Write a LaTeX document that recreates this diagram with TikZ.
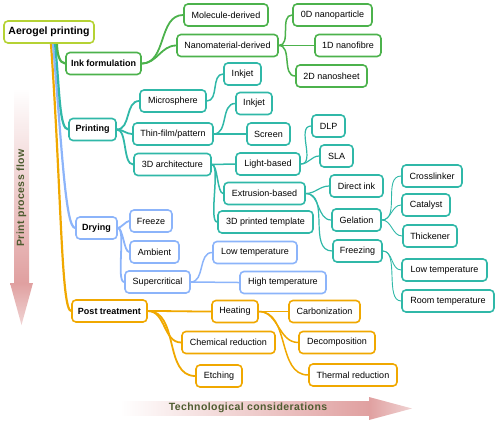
\documentclass[tikz,border=0pt]{standalone}
\usepackage{fontspec}
\setmainfont{Liberation Sans}
\newfontfamily\arrowfont[LetterSpace=4]{Liberation Sans}
\usetikzlibrary{backgrounds}
\definecolor{cgreen}{RGB}{76,178,76}
\definecolor{cteal}{RGB}{48,184,168}
\definecolor{cblue}{RGB}{140,180,250}
\definecolor{corange}{RGB}{240,168,0}
\definecolor{croot}{RGB}{181,210,52}
\definecolor{ctext}{RGB}{78,92,48}
\definecolor{cpink}{RGB}{224,160,160}
\definecolor{cpinkl}{RGB}{240,212,212}
\tikzset{
  box/.style={draw, rounded corners=4pt, fill=white, line width=1.6pt,
    minimum height=22pt, inner sep=0pt, text=black,
    font=\fontsize{9}{10}\selectfont},
  lvlone/.style={box, font=\fontsize{9}{10}\selectfont\bfseries},
  gbox/.style={box, draw=cgreen}, tbox/.style={box, draw=cteal},
  bbox/.style={box, draw=cblue}, obox/.style={box, draw=corange},
  br/.style={out=0, in=180},
  lA/.style={line width=2.2pt}, lB/.style={line width=1.8pt},
  lC/.style={line width=1.5pt}, lD/.style={line width=1.2pt},
  lE/.style={line width=0.9pt},
  arrowlabel/.style={text=ctext, font=\fontsize{10.5}{12}\arrowfont\bfseries}
}
\begin{document}
\begin{tikzpicture}[x=1pt, y=-1pt]
\useasboundingbox (0,0) rectangle (497,422);
% big arrows
\shade[top color=white, bottom color=cpink] (14,88) rectangle (29,283);
\shade[top color=cpink, bottom color=cpinkl] (10,283) -- (33,283) -- (21.5,325) -- cycle;
\node[arrowlabel, rotate=90] (pflow) at (21.5,198) {Print process flow};
\shade[left color=white, right color=cpink] (120,401) rectangle (369,415);
\shade[left color=cpink, right color=cpinkl] (369,397) -- (369,420) -- (412,408.5) -- cycle;
\node[arrowlabel] (tcons) at (248,408) {Technological considerations};
% root
\node[box, draw=croot, minimum width=90pt, font=\fontsize{10.5}{12}\selectfont\bfseries] (root) at (49,32) {Aerogel printing};
% level 1
\node[lvlone, draw=cgreen, minimum width=75pt] (ink) at (103.5,63.5) {Ink formulation};
\node[lvlone, draw=cteal, minimum width=47pt] (printing) at (92.5,129.5) {Printing};
\node[lvlone, draw=cblue, minimum width=41pt] (drying) at (96.5,228) {Drying};
\node[lvlone, draw=corange, minimum width=75pt] (post) at (109.5,311) {Post treatment};
% ink branch
\node[gbox, minimum width=84pt] (mol) at (226,15) {Molecule-derived};
\node[gbox, minimum width=101pt] (nano) at (227.5,45.5) {Nanomaterial-derived};
\node[gbox, minimum width=79pt] (zd) at (332.5,15) {0D nanoparticle};
\node[gbox, minimum width=66pt] (od) at (348,45.5) {1D nanofibre};
\node[gbox, minimum width=71pt] (td) at (331.5,76) {2D nanosheet};
% printing branch
\node[tbox, minimum width=66pt] (micro) at (173,101) {Microsphere};
\node[tbox, minimum width=37pt] (inkjeta) at (242.5,74) {Inkjet};
\node[tbox, minimum width=80pt] (thin) at (173,134) {Thin-film/pattern};
\node[tbox, minimum width=36pt] (inkjetb) at (254,103.5) {Inkjet};
\node[tbox, minimum width=43pt] (screen) at (268.5,134) {Screen};
\node[tbox, minimum width=77pt] (arch) at (172.5,164.5) {3D architecture};
\node[tbox, minimum width=64pt] (light) at (268,164) {Light-based};
\node[tbox, minimum width=33pt] (dlp) at (328.5,126) {DLP};
\node[tbox, minimum width=33pt] (sla) at (336.5,156) {SLA};
\node[tbox, minimum width=81pt] (extr) at (264.5,193.5) {Extrusion-based};
\node[tbox, minimum width=95pt] (templ) at (265.5,222) {3D printed template};
\node[tbox, minimum width=53pt] (direct) at (356.5,186) {Direct ink};
\node[tbox, minimum width=49pt] (gel) at (356.5,220) {Gelation};
\node[tbox, minimum width=49pt] (freezing) at (357.5,251) {Freezing};
\node[tbox, minimum width=60pt] (cross) at (432,176) {Crosslinker};
\node[tbox, minimum width=48pt] (cat) at (426,205) {Catalyst};
\node[tbox, minimum width=54pt] (thick) at (430,236) {Thickener};
\node[tbox, minimum width=85pt] (lowt) at (444.5,270) {Low temperature};
\node[tbox, minimum width=92pt] (roomt) at (448,301) {Room temperature};
% drying branch
\node[bbox, minimum width=42pt] (freeze) at (151,221) {Freeze};
\node[bbox, minimum width=49pt] (ambient) at (154.5,252) {Ambient};
\node[bbox, minimum width=65pt] (super) at (157.5,282) {Supercritical};
\node[bbox, minimum width=84pt] (lowb) at (255,252.5) {Low temperature};
\node[bbox, minimum width=86pt] (highb) at (283,282.5) {High temperature};
% post branch
\node[obox, minimum width=46pt] (heating) at (235,311.5) {Heating};
\node[obox, minimum width=71pt] (carb) at (324.5,311.5) {Carbonization};
\node[obox, minimum width=93pt] (chem) at (228.5,342.5) {Chemical reduction};
\node[obox, minimum width=76pt] (decomp) at (337,342.5) {Decomposition};
\node[obox, minimum width=46pt] (etch) at (219,376) {Etching};
\node[obox, minimum width=88pt] (thermal) at (353,375) {Thermal reduction};
% connectors
\begin{pgfonlayer}{background}
\coordinate (so) at ([xshift=2pt]root.south);
\coordinate (sb) at ([xshift=4pt]root.south);
\coordinate (st) at ([xshift=6pt]root.south);
\coordinate (sg) at ([xshift=8pt]root.south);
\draw[lA, corange] (so) to[out=-86, in=180, out distance=150pt, in distance=10pt] (post.west);
\draw[lA, cblue] (sb) to[out=-85, in=180, out distance=100pt, in distance=10pt] (drying.west);
\draw[lA, cteal] (st) to[out=-84, in=180, out distance=45pt, in distance=9pt] (printing.west);
\draw[lA, cgreen] (sg) to[out=-90, in=180, out distance=9pt, in distance=6pt] (ink.west);
% green
\draw[lB, cgreen] (ink.east) to[br] (mol.west);
\draw[lB, cgreen] (ink.east) to[br] (nano.west);
\draw[lC, cgreen] (nano.east) to[br] (zd.west);
\draw[lC, cgreen] (nano.east) to[br] (od.west);
\draw[lC, cgreen] (nano.east) to[br] (td.west);
% teal
\draw[lB, cteal] (printing.east) to[br] (micro.west);
\draw[lB, cteal] (printing.east) to[br] (thin.west);
\draw[lB, cteal] (printing.east) to[br, looseness=0.7] (arch.west);
\draw[lC, cteal] (micro.east) to[br] (inkjeta.west);
\draw[lC, cteal] (thin.east) to[br] (inkjetb.west);
\draw[lC, cteal] (thin.east) to[br] (screen.west);
\draw[lC, cteal] (arch.east) to[br] (light.west);
\draw[lC, cteal] (arch.east) to[br, looseness=0.5] (extr.west);
\draw[lC, cteal] (arch.east) to[br, looseness=0.4] (templ.west);
\draw[lD, cteal] (light.east) to[br] (dlp.west);
\draw[lD, cteal] (light.east) to[br] (sla.west);
\draw[lD, cteal] (extr.east) to[br] (direct.west);
\draw[lD, cteal] (extr.east) to[br] (gel.west);
\draw[lD, cteal] (extr.east) to[br] (freezing.west);
\draw[lE, cteal] (gel.east) to[br] (cross.west);
\draw[lE, cteal] (gel.east) to[br] (cat.west);
\draw[lE, cteal] (gel.east) to[br] (thick.west);
\draw[lE, cteal] (freezing.east) to[br] (lowt.west);
\draw[lE, cteal] (freezing.east) to[br, looseness=0.8] (roomt.west);
% blue
\draw[lB, cblue] (drying.east) to[br, looseness=0.6] (freeze.west);
\draw[lB, cblue] (drying.east) to[br, looseness=0.5] (ambient.west);
\draw[lB, cblue] (drying.east) to[br, looseness=0.4] (super.west);
\draw[lC, cblue] (super.east) to[br] (lowb.west);
\draw[lC, cblue] (super.east) to[br] (highb.west);
% orange
\draw[lB, corange] (post.east) to[br] (heating.west);
\draw[lB, corange] (post.east) to[br] (chem.west);
\draw[lB, corange] (post.east) to[br] (etch.west);
\draw[lC, corange] (heating.east) to[br] (carb.west);
\draw[lC, corange] (heating.east) to[br] (decomp.west);
\draw[lC, corange] (heating.east) to[br] (thermal.west);
\end{pgfonlayer}
\end{tikzpicture}
\end{document}
